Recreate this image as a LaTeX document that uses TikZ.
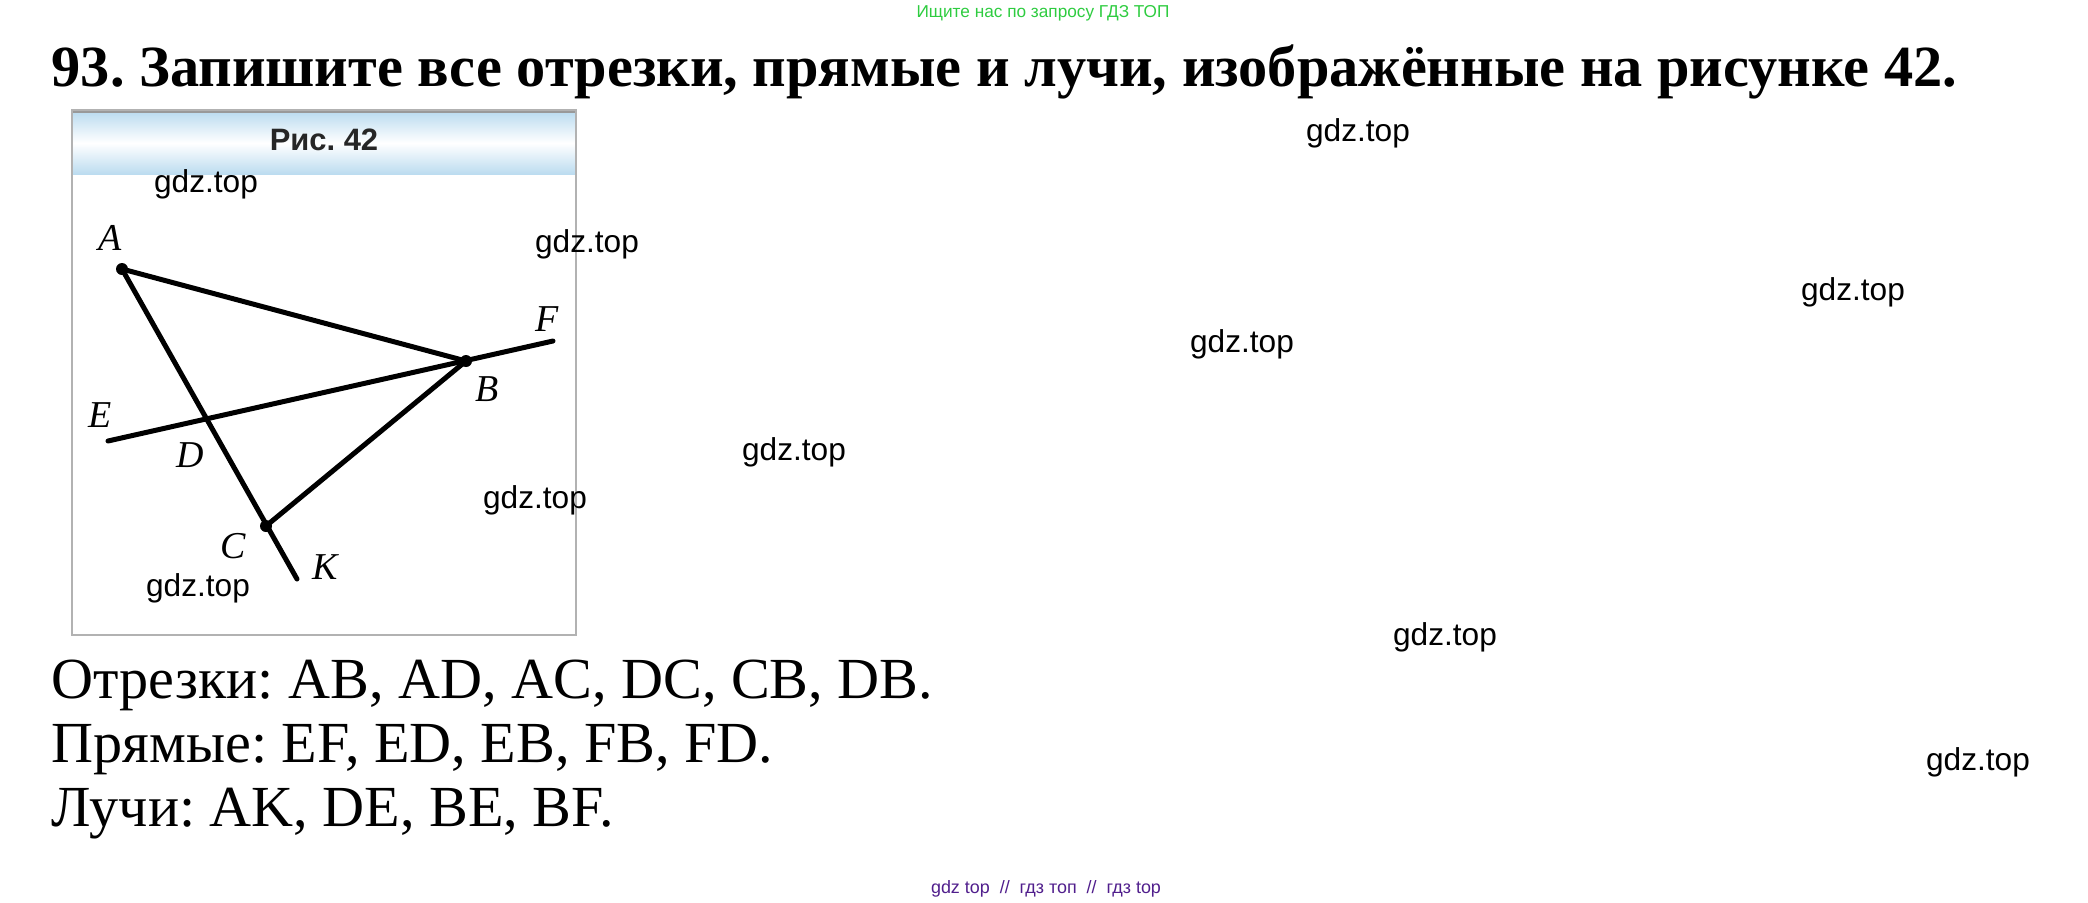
\documentclass[tikz,border=0pt]{standalone}
\usepackage{fontspec}
\setmainfont{Liberation Serif}
\newfontfamily\wmfont{Liberation Sans}
\definecolor{gdzgreen}{RGB}{46,204,64}
\definecolor{gdzpurple}{RGB}{80,30,140}
\definecolor{bandblue}{RGB}{188,220,240}
\frenchspacing
\tikzset{
  wm/.style={font=\wmfont\fontsize{9}{9}\selectfont, inner sep=0pt},
  lbl/.style={font=\itshape\fontsize{10.8}{11}\selectfont, inner sep=0pt},
  seg/.style={line width=0.5mm, line cap=round},
  answer/.style={anchor=base west, inner sep=0pt, font=\fontsize{16.55}{17}\selectfont},
}
\begin{document}
\begin{tikzpicture}[x=0.1mm, y=-0.1mm]
\useasboundingbox (0,0) rectangle (2088,902);

\node[anchor=base, inner sep=0pt, text=gdzgreen, font=\wmfont\fontsize{4.9}{5}\selectfont] (ask) at (1043,17) {Ищите нас по запросу ГДЗ ТОП};
\node[anchor=base west, inner sep=0pt, font=\bfseries\fontsize{16.6}{17}\selectfont] (title) at (51,86) {93. Запишите все отрезки, прямые и лучи, изображённые на рисунке 42.};

% frame of the figure
\shade[top color=bandblue, bottom color=bandblue, middle color=white] (72,112) rectangle (576,174);
\draw[gray!80, line width=0.3mm] (72,111)--(576,111);
\draw[gray!60, line width=0.2mm] (72,110) rectangle (576,635);
\node[inner sep=0pt, font=\wmfont\bfseries\fontsize{8.8}{9}\selectfont, text=black!85] (cap) at (324,140) {Рис. 42};

\coordinate (A) at (122,269);
\coordinate (B) at (466,361);
\coordinate (C) at (266,526);
\coordinate (D) at (206,419);
\coordinate (E) at (108,441);
\coordinate (F) at (553,341);
\coordinate (K) at (297,579);

\draw[seg] (A)--(B);
\draw[seg] (A)--(K);
\draw[seg] (E)--(F);
\draw[seg] (B)--(C);
\foreach \p in {A,B,C}
  \fill (\p) circle[radius=0.6mm];

\node[lbl] (la) at (110,238) {A};
\node[lbl] (lf) at (547,319) {F};
\node[lbl] (lb) at (487,389) {B};
\node[lbl] (le) at (100,415) {E};
\node[lbl] (ld) at (190,455) {D};
\node[lbl] (lc) at (233,546) {C};
\node[lbl] (lk) at (325,567) {K};

\node[answer] (ans1) at (51,698) {Отрезки: AB, AD, AC, DC, CB, DB.};
\node[answer] (ans2) at (51,762) {Прямые: EF, ED, EB, FB, FD.};
\node[answer] (ans3) at (51,826) {Лучи: AK, DE, BE, BF.};

\node[anchor=base, inner sep=0pt, text=gdzpurple, font=\wmfont\fontsize{5.1}{6}\selectfont] (foot) at (1046,893) {gdz top \ // \ гдз топ \ // \ гдз top};

% watermarks
\node[wm] (w1) at (206,184) {gdz.top};
\node[wm] (w2) at (587,244) {gdz.top};
\node[wm] (w3) at (1358,133) {gdz.top};
\node[wm] (w4) at (1853,292) {gdz.top};
\node[wm] (w5) at (1242,344) {gdz.top};
\node[wm] (w6) at (794,452) {gdz.top};
\node[wm] (w7) at (535,500) {gdz.top};
\node[wm] (w8) at (198,588) {gdz.top};
\node[wm] (w9) at (1445,637) {gdz.top};
\node[wm] (w10) at (1978,762) {gdz.top};
\end{tikzpicture}
\end{document}
